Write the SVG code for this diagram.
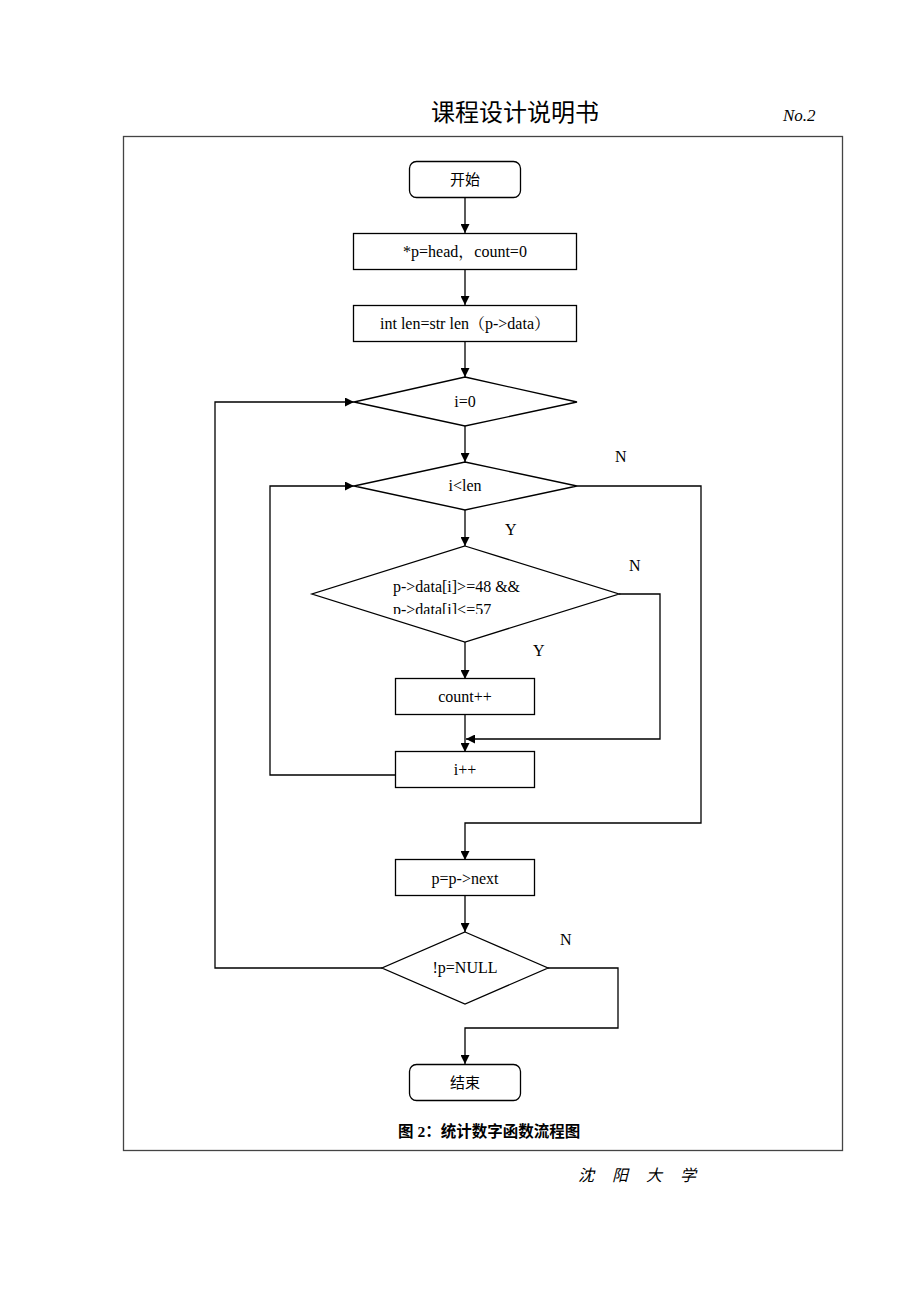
<svg xmlns="http://www.w3.org/2000/svg" width="920" height="1302" viewBox="0 0 920 1302">
<style>
.sh{fill:#fff;stroke:#000;stroke-width:1.3}
.ln{fill:none;stroke:#000;stroke-width:1.3}
.t{font-family:"Liberation Serif","Noto Serif CJK SC","Noto Sans CJK SC",serif;font-size:16px;fill:#000}
.c{font-family:"Noto Sans CJK SC",sans-serif;font-size:15px;fill:#000}
.f{font-family:"Noto Sans CJK SC",sans-serif;font-style:italic;font-size:16px;fill:#000}
.m{text-anchor:middle}
</style>
<defs>
<marker id="ah" viewBox="0 0 10 10" refX="10" refY="5" markerWidth="10" markerHeight="9" markerUnits="userSpaceOnUse" orient="auto">
<path d="M0,0 L10,5 L0,10 Z" fill="#000"/>
</marker>
<clipPath id="cp"><rect x="300" y="597" width="300" height="17"/></clipPath>
</defs>
<rect x="0" y="0" width="920" height="1302" fill="#fff"/>
<g id="page">
<text x="515" y="121" class="c m" style="font-size:24px">课程设计说明书</text>
<text x="783" y="121" style="font-family:'Liberation Serif',serif;font-style:italic;font-size:17px">No.2</text>
<rect x="123.5" y="136.5" width="719" height="1014" fill="none" stroke="#444" stroke-width="1.3"/>
<text x="398" y="1137" style="font-family:'Liberation Serif','Noto Sans CJK SC',sans-serif;font-weight:bold;font-size:15.5px">图 2：统计数字函数流程图</text>
<text x="578" y="1181" class="f">沈</text>
<text x="612" y="1181" class="f">阳</text>
<text x="646" y="1181" class="f">大</text>
<text x="680" y="1181" class="f">学</text>
</g>
<g id="connectors">
<line class="ln" x1="465" y1="197" x2="465" y2="233" marker-end="url(#ah)"/>
<line class="ln" x1="465" y1="269" x2="465" y2="305" marker-end="url(#ah)"/>
<line class="ln" x1="465" y1="341" x2="465" y2="377" marker-end="url(#ah)"/>
<line class="ln" x1="465" y1="426" x2="465" y2="462" marker-end="url(#ah)"/>
<line class="ln" x1="465" y1="510" x2="465" y2="546" marker-end="url(#ah)"/>
<line class="ln" x1="465" y1="642" x2="465" y2="679" marker-end="url(#ah)"/>
<line class="ln" x1="465" y1="715" x2="465" y2="752" marker-end="url(#ah)"/>
<polyline class="ln" points="619,594 660,594 660,739 466,739" marker-end="url(#ah)"/>
<polyline class="ln" points="396,775 270,775 270,486 354,486" marker-end="url(#ah)"/>
<polyline class="ln" points="577,486 701,486 701,823 465,823 465,860" marker-end="url(#ah)"/>
<line class="ln" x1="465" y1="896" x2="465" y2="932" marker-end="url(#ah)"/>
<polyline class="ln" points="382,968 215,968 215,402 354,402" marker-end="url(#ah)"/>
<polyline class="ln" points="548,968 618,968 618,1028 465,1028 465,1064" marker-end="url(#ah)"/>
<text x="615" y="462" class="t">N</text>
<text x="505" y="535" class="t">Y</text>
<text x="629" y="571" class="t">N</text>
<text x="533" y="656" class="t">Y</text>
<text x="560" y="945" class="t">N</text>
</g>
<g id="start">
<rect x="409.5" y="161.5" width="111" height="36" rx="7" class="sh"/>
<text x="465" y="185" class="c m">开始</text>
</g>
<g id="init">
<rect x="353.5" y="233.5" width="223" height="36" class="sh"/>
<text x="465" y="257" class="t m">*p=head，count=0</text>
</g>
<g id="len">
<rect x="353.5" y="305.5" width="223" height="36" class="sh"/>
<text x="465" y="329" class="t m">int len=str len（p-&gt;data）</text>
</g>
<g id="i0">
<polygon points="465,377 577,402 465,426 354,402" class="sh"/>
<text x="465" y="407" class="t m">i=0</text>
</g>
<g id="ilen">
<polygon points="465,462 577,486 465,510 354,486" class="sh"/>
<text x="465" y="491" class="t m">i&lt;len</text>
</g>
<g id="digit">
<polygon points="465,546 619,594 465,642 312,594" class="sh"/>
<text x="393" y="592" class="t">p-&gt;data[i]&gt;=48 &amp;&amp;</text>
<text x="393" y="615" class="t" clip-path="url(#cp)">p-&gt;data[i]&lt;=57</text>
</g>
<g id="count">
<rect x="395.5" y="678.5" width="139" height="36" class="sh"/>
<text x="465" y="702" class="t m">count++</text>
</g>
<g id="inc">
<rect x="395.5" y="751.5" width="139" height="36" class="sh"/>
<text x="465" y="775" class="t m">i++</text>
</g>
<g id="next">
<rect x="395.5" y="859.5" width="139" height="36" class="sh"/>
<text x="465" y="884" class="t m">p=p-&gt;next</text>
</g>
<g id="null">
<polygon points="465,932 548,968 465,1004 382,968" class="sh"/>
<text x="465" y="973" class="t m">!p=NULL</text>
</g>
<g id="end">
<rect x="409.5" y="1064.5" width="111" height="36" rx="7" class="sh"/>
<text x="465" y="1088" class="c m">结束</text>
</g>
</svg>
